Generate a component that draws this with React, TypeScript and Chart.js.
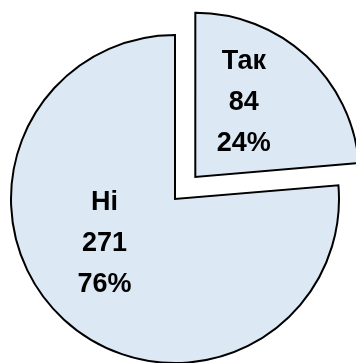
import React, { useEffect, useRef } from "react";
import { Chart, registerables } from "chart.js";

Chart.register(...registerables);

const categories: string[] = ["Так", "Ні"];
const counts: number[] = [84, 271];

const labelPlugin = {
  id: "sliceLabels",
  afterDatasetsDraw(chart: any) {
    const ctx = chart.ctx as CanvasRenderingContext2D;
    const meta = chart.getDatasetMeta(0);
    const ds = chart.data.datasets[0];
    const values = ds.data as number[];
    const total = values.reduce((a, b) => a + b, 0);
    // where the label sits inside each slice: fraction of the angular span, fraction of radius
    const place = [
      { a: 0.39, r: 0.54 },
      { a: 0.554, r: 0.51 },
    ];
    meta.data.forEach((arc: any, i: number) => {
      const p = arc.getProps(["x", "y", "startAngle", "endAngle", "outerRadius"], true);
      const mid = (p.startAngle + p.endAngle) / 2;
      const off = (arc.options.offset || 0) / 4;
      const cx = p.x + Math.cos(mid) * off;
      const cy = p.y + Math.sin(mid) * off;
      const ang = p.startAngle + (p.endAngle - p.startAngle) * place[i].a;
      const rr = p.outerRadius * place[i].r;
      const lx = cx + Math.cos(ang) * rr;
      const ly = cy + Math.sin(ang) * rr;
      const lines = [
        String(chart.data.labels[i]),
        String(values[i]),
        Math.round((values[i] / total) * 100) + "%",
      ];
      ctx.save();
      ctx.fillStyle = "#000000";
      ctx.font = "bold 27px 'Liberation Sans', Arial, sans-serif";
      ctx.textAlign = "center";
      ctx.textBaseline = "middle";
      lines.forEach((t, k) => ctx.fillText(t, lx, ly + (k - 1) * 41));
      ctx.restore();
    });
  },
};

export default function App() {
  const ref = useRef<HTMLCanvasElement | null>(null);
  useEffect(() => {
    if (!ref.current) return;
    const chart = new Chart(ref.current, {
      type: "pie",
      data: {
        labels: categories,
        datasets: [
          {
            data: counts,
            backgroundColor: "#dce9f5",
            borderColor: "#000000",
            borderWidth: 2,
            borderJoinStyle: "miter",
            offset: [120, 0],
            clip: false,
          } as any,
        ],
      },
      options: {
        responsive: false,
        animation: false,
        radius: 164,
        layout: { padding: { left: 0, right: 6, top: 35, bottom: 0 } },
        plugins: {
          legend: { display: false },
          tooltip: { enabled: false },
        },
        events: [],
      } as any,
      plugins: [labelPlugin],
    });
    return () => chart.destroy();
  }, []);
  return (
    <div style={{ position: "absolute", left: 0, top: 0, width: 356, height: 363, background: "#ffffff" }}>
      <canvas ref={ref} width={356} height={363} style={{ display: "block" }} />
    </div>
  );
}
